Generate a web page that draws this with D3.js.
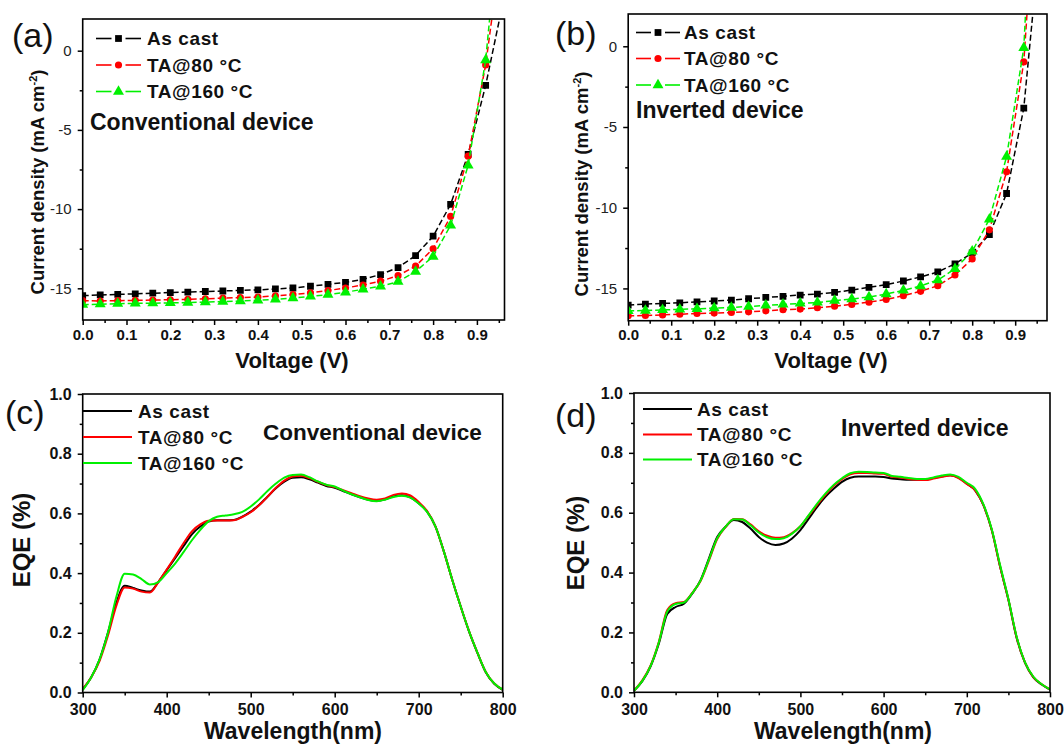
<!DOCTYPE html>
<html>
<head>
<meta charset="utf-8">
<script src="https://cdn.jsdelivr.net/npm/d3@7"></script>
<style>
html,body{margin:0;padding:0;background:#fff;}
svg{display:block;font-family:"Liberation Sans",Arial,Helvetica,sans-serif;}
</style>
</head>
<body>
<svg id="chart" width="1064" height="746"></svg>
<script>
// ---------------- DATA ----------------
const seriesNames = ["As cast", "TA@80 \u00B0C", "TA@160 \u00B0C"];
const seriesColors = ["#000000", "#ff0000", "#00f000"];
const seriesMarkers = ["square", "circle", "triangle"];

const jvVoltage = [0,0.04,0.08,0.12,0.16,0.20,0.24,0.28,0.32,0.36,0.40,0.44,0.48,0.52,0.56,0.60,0.64,0.68,0.72,0.76,0.80,0.84,0.88,0.92,0.96];
const jvXTicks = [0,0.1,0.2,0.3,0.4,0.5,0.6,0.7,0.8,0.9];
const jvXMinor = [0.05,0.15,0.25,0.35,0.45,0.55,0.65,0.75,0.85,0.95];
const jvYTicks = [0,-5,-10,-15];
const jvYMinor = [-2.5,-7.5,-12.5];

// (a) conventional device J-V
const convAsCast = [-15.46,-15.42,-15.38,-15.35,-15.31,-15.27,-15.24,-15.2,-15.17,-15.13,-15.1,-15.04,-14.98,-14.87,-14.75,-14.62,-14.43,-14.13,-13.69,-12.93,-11.71,-9.70,-6.54,-2.19,3.1];
const convTA80   = [-15.78,-15.8,-15.78,-15.76,-15.74,-15.72,-15.7,-15.66,-15.62,-15.58,-15.55,-15.48,-15.4,-15.29,-15.14,-14.98,-14.79,-14.55,-14.2,-13.6,-12.5,-10.46,-6.66,-0.9,7.4];
const convTA160  = [-16.03,-16.0,-15.97,-15.95,-15.94,-15.92,-15.9,-15.87,-15.84,-15.8,-15.76,-15.7,-15.61,-15.51,-15.4,-15.25,-15.06,-14.87,-14.58,-13.94,-12.99,-11.03,-7.23,-0.59,10.9];

// (b) inverted device J-V
const invAsCast = [-16.03,-15.97,-15.93,-15.89,-15.83,-15.78,-15.72,-15.64,-15.56,-15.49,-15.41,-15.35,-15.25,-15.1,-14.93,-14.77,-14.54,-14.29,-13.98,-13.48,-12.8,-11.66,-9.12,-3.83,7.3];
const invTA80   = [-16.7,-16.68,-16.64,-16.6,-16.55,-16.53,-16.49,-16.45,-16.39,-16.32,-16.28,-16.2,-16.1,-15.99,-15.85,-15.68,-15.45,-15.18,-14.83,-14.17,-13.17,-11.37,-7.78,-0.97,14.9];
const invTA160  = [-16.39,-16.37,-16.33,-16.3,-16.26,-16.22,-16.18,-16.12,-16.05,-15.99,-15.93,-15.87,-15.76,-15.66,-15.53,-15.35,-15.12,-14.85,-14.48,-13.79,-12.71,-10.72,-6.84,-0.1,20.9];

const eqeWavelength = [300,310,320,330,340,350,360,370,380,390,400,410,420,430,440,450,460,470,480,490,500,510,520,530,540,550,560,570,580,590,600,610,620,630,640,650,660,670,680,690,700,710,720,730,740,750,760,770,780,790,800];
const eqeXTicks = [300,400,500,600,700,800];
const eqeXMinor = [350,450,550,650,750];
const eqeYTicks = [0,0.2,0.4,0.6,0.8,1.0];
const eqeYMinor = [0.1,0.3,0.5,0.7,0.9];

// (c) conventional device EQE
const eqeConvAsCast = [0.01,0.05,0.11,0.20,0.30,0.358,0.35,0.342,0.338,0.37,0.41,0.45,0.49,0.53,0.556,0.573,0.577,0.577,0.578,0.589,0.606,0.628,0.656,0.684,0.706,0.719,0.721,0.714,0.703,0.692,0.686,0.675,0.664,0.654,0.646,0.642,0.647,0.657,0.661,0.654,0.634,0.606,0.556,0.472,0.377,0.288,0.204,0.132,0.067,0.029,0.009];
const eqeConvTA80   = [0.012,0.05,0.105,0.19,0.29,0.352,0.348,0.338,0.335,0.37,0.412,0.455,0.5,0.54,0.563,0.575,0.576,0.576,0.577,0.588,0.604,0.627,0.656,0.686,0.71,0.724,0.726,0.718,0.706,0.695,0.688,0.678,0.668,0.658,0.65,0.646,0.65,0.662,0.667,0.66,0.638,0.608,0.556,0.472,0.377,0.288,0.205,0.133,0.068,0.03,0.01];
const eqeConvTA160  = [0.008,0.05,0.11,0.2,0.32,0.398,0.395,0.38,0.362,0.37,0.4,0.432,0.47,0.51,0.545,0.574,0.589,0.593,0.597,0.605,0.623,0.647,0.675,0.7,0.72,0.729,0.73,0.721,0.707,0.696,0.69,0.676,0.664,0.654,0.645,0.641,0.646,0.655,0.659,0.653,0.633,0.605,0.556,0.472,0.377,0.288,0.205,0.133,0.068,0.03,0.01];

// (d) inverted device EQE
const eqeInvAsCast = [0.005,0.037,0.087,0.164,0.262,0.285,0.296,0.33,0.375,0.447,0.519,0.553,0.576,0.569,0.547,0.519,0.5,0.492,0.497,0.514,0.542,0.58,0.619,0.653,0.68,0.703,0.717,0.721,0.721,0.721,0.719,0.714,0.712,0.71,0.71,0.71,0.716,0.721,0.725,0.717,0.697,0.675,0.625,0.542,0.42,0.309,0.181,0.098,0.05,0.026,0.009];
const eqeInvTA80   = [0.006,0.04,0.09,0.17,0.275,0.298,0.302,0.332,0.372,0.44,0.512,0.552,0.579,0.578,0.561,0.538,0.523,0.516,0.518,0.532,0.555,0.59,0.626,0.66,0.69,0.712,0.728,0.733,0.733,0.731,0.73,0.72,0.718,0.713,0.71,0.709,0.714,0.72,0.724,0.716,0.696,0.675,0.625,0.542,0.42,0.31,0.182,0.099,0.051,0.027,0.01];
const eqeInvTA160  = [0.005,0.038,0.088,0.168,0.27,0.295,0.3,0.331,0.373,0.443,0.515,0.553,0.578,0.577,0.558,0.534,0.518,0.512,0.515,0.53,0.555,0.592,0.63,0.664,0.693,0.715,0.732,0.737,0.736,0.734,0.733,0.723,0.72,0.716,0.713,0.713,0.718,0.724,0.728,0.72,0.7,0.68,0.628,0.545,0.425,0.312,0.185,0.1,0.052,0.027,0.01];

// ---------------- LAYOUT ----------------
const svg = d3.select("#chart");
const FONT = '"Liberation Sans",Arial,Helvetica,sans-serif';

const panels = [
  {id:"a", kind:"jv", box:[82.7,19,504.5,320], xd:[0,0.963], yd:[-17,2],
   series:[convAsCast,convTA80,convTA160], letter:"(a)", letterPos:[12,47],
   legend:{x0:96,x1:141,tx:147,ys:[38.5,65,91.5]},
   note:{text:"Conventional device",x:90,y:130,size:23},
   ylab:[44,182], xlab:[292,368]},
  {id:"b", kind:"jv", box:[628.2,14,1047,320.7], xd:[0,0.974], yd:[-17,2],
   series:[invAsCast,invTA80,invTA160], letter:"(b)", letterPos:[555,45],
   legend:{x0:636,x1:680,tx:684,ys:[32.5,58.5,85]},
   note:{text:"Inverted device",x:636,y:118,size:23},
   ylab:[588,184], xlab:[831,368]},
  {id:"c", kind:"eqe", box:[82.7,394,502.7,692.5], xd:[300,800], yd:[0,1],
   series:[eqeConvAsCast,eqeConvTA80,eqeConvTA160], letter:"(c)", letterPos:[5,424],
   legend:{x0:83,x1:132,tx:138,ys:[411,437,463]},
   note:{text:"Conventional device",x:263,y:440,size:22.5},
   ylab:[30,540], xlab:[293,739]},
  {id:"d", kind:"eqe", box:[634,393,1050,692.3], xd:[300,800], yd:[0,1],
   series:[eqeInvAsCast,eqeInvTA80,eqeInvTA160], letter:"(d)", letterPos:[555,427],
   legend:{x0:643,x1:692,tx:697,ys:[409,434.5,459.5]},
   note:{text:"Inverted device",x:841,y:436,size:23},
   ylab:[584,543], xlab:[843,739]}
];

function markerPath(type, size) {
  const sym = type === "square" ? d3.symbolSquare : type === "circle" ? d3.symbolCircle : d3.symbolTriangle;
  return d3.symbol().type(sym).size(size)();
}
const markerSize = {square:46, circle:40, triangle:52};

panels.forEach(p => {
  const [L,T,R,B] = p.box;
  const x = d3.scaleLinear().domain(p.xd).range([L,R]);
  const y = d3.scaleLinear().domain(p.yd).range([B,T]);
  const g = svg.append("g");

  const clipId = "clip-" + p.id;
  svg.append("defs").append("clipPath").attr("id", clipId)
    .append("rect").attr("x", L).attr("y", T).attr("width", R-L).attr("height", B-T);

  const isJV = p.kind === "jv";
  const xMajor = isJV ? jvXTicks : eqeXTicks;
  const xMinor = (isJV ? jvXMinor : eqeXMinor).filter(v => v <= p.xd[1]);
  const yMajor = isJV ? jvYTicks : eqeYTicks;
  const yMinor = isJV ? jvYMinor : eqeYMinor;
  const xFmt = isJV ? d3.format(".1f") : d3.format("d");
  const yFmt = isJV ? (d => String(d)) : d3.format(".1f");
  const tickFs = isJV ? 15 : 16;

  const xAx = g.append("g").attr("transform", `translate(0,${B})`)
    .call(d3.axisBottom(x).tickValues(xMajor).tickFormat(xFmt).tickSize(5).tickPadding(isJV ? 4 : 6));
  const xAxMin = g.append("g").attr("transform", `translate(0,${B})`)
    .call(d3.axisBottom(x).tickValues(xMinor).tickFormat("").tickSize(3));
  const yAx = g.append("g").attr("transform", `translate(${L},0)`)
    .call(d3.axisLeft(y).tickValues(yMajor).tickFormat(yFmt).tickSize(5).tickPadding(6));
  const yAxMin = g.append("g").attr("transform", `translate(${L},0)`)
    .call(d3.axisLeft(y).tickValues(yMinor).tickFormat("").tickSize(3));
  [xAx,xAxMin,yAx,yAxMin].forEach(a => {
    a.select(".domain").remove();
    a.selectAll("line").attr("stroke","#000").attr("stroke-width",1.5);
    a.selectAll("text").attr("font-family",FONT).attr("font-size",tickFs)
      .attr("font-weight","bold").attr("fill","#111");
  });
  if (isJV) yAx.selectAll("text").attr("font-weight","normal").attr("fill","#222");

  const plot = g.append("g").attr("clip-path", `url(#${clipId})`);
  const xs = isJV ? jvVoltage : eqeWavelength;
  p.series.forEach((vals, i) => {
    const pts = xs.map((v, k) => [v, vals[k]]);
    const line = d3.line().x(d => x(d[0])).y(d => y(d[1]));
    if (!isJV) line.curve(d3.curveMonotoneX);
    plot.append("path").datum(pts).attr("d", line)
      .attr("fill","none").attr("stroke", seriesColors[i])
      .attr("stroke-width", isJV ? 1.5 : 2)
      .attr("stroke-dasharray", isJV ? "6,3" : null);
    if (isJV) {
      plot.selectAll(null).data(pts).enter().append("path")
        .attr("transform", d => `translate(${x(d[0])},${y(d[1])})`)
        .attr("d", markerPath(seriesMarkers[i], markerSize[seriesMarkers[i]]))
        .attr("fill", seriesColors[i]);
    }
  });

  g.append("rect").attr("x",L).attr("y",T).attr("width",R-L).attr("height",B-T)
    .attr("fill","none").attr("stroke","#000").attr("stroke-width",1.6);

  const lg = p.legend;
  seriesNames.forEach((name, i) => {
    const yy = lg.ys[i];
    if (isJV) {
      const mid = (lg.x0 + lg.x1) / 2;
      g.append("line").attr("x1", lg.x0).attr("x2", mid-7).attr("y1",yy).attr("y2",yy)
        .attr("stroke", seriesColors[i]).attr("stroke-width",1.6);
      g.append("line").attr("x1", mid+7).attr("x2", lg.x1).attr("y1",yy).attr("y2",yy)
        .attr("stroke", seriesColors[i]).attr("stroke-width",1.6);
      g.append("path").attr("transform",`translate(${mid},${yy})`)
        .attr("d", markerPath(seriesMarkers[i], markerSize[seriesMarkers[i]]))
        .attr("fill", seriesColors[i]);
    } else {
      g.append("line").attr("x1", lg.x0).attr("x2", lg.x1).attr("y1",yy).attr("y2",yy)
        .attr("stroke", seriesColors[i]).attr("stroke-width",2);
    }
    g.append("text").attr("x", lg.tx).attr("y", yy).attr("dy","0.36em")
      .attr("font-family",FONT).attr("font-size",19).attr("font-weight","bold")
      .attr("letter-spacing",0.6).attr("fill","#111").text(name);
  });

  g.append("text").attr("x", p.note.x).attr("y", p.note.y)
    .attr("font-family",FONT).attr("font-size",p.note.size).attr("font-weight","bold")
    .attr("fill","#111").text(p.note.text);

  g.append("text").attr("x", p.letterPos[0]).attr("y", p.letterPos[1])
    .attr("font-family",FONT).attr("font-size",34).attr("fill","#111").text(p.letter);

  g.append("text").attr("x", p.xlab[0]).attr("y", p.xlab[1]).attr("text-anchor","middle")
    .attr("font-family",FONT).attr("font-size", isJV ? 22 : 23).attr("font-weight","bold")
    .attr("fill","#111").text(isJV ? "Voltage (V)" : "Wavelength(nm)");
  const yl = g.append("text").attr("transform",`translate(${p.ylab[0]},${p.ylab[1]}) rotate(-90)`)
    .attr("text-anchor","middle").attr("font-family",FONT).attr("font-weight","bold")
    .attr("fill","#111").attr("font-size", isJV ? 18.5 : 24);
  if (isJV) {
    yl.append("tspan").text("Current density (mA cm");
    yl.append("tspan").attr("dy",-7).attr("font-size",11).text("-2");
    yl.append("tspan").attr("dy",7).text(")");
  } else {
    yl.text("EQE (%)");
  }
});
</script>
</body>
</html>
